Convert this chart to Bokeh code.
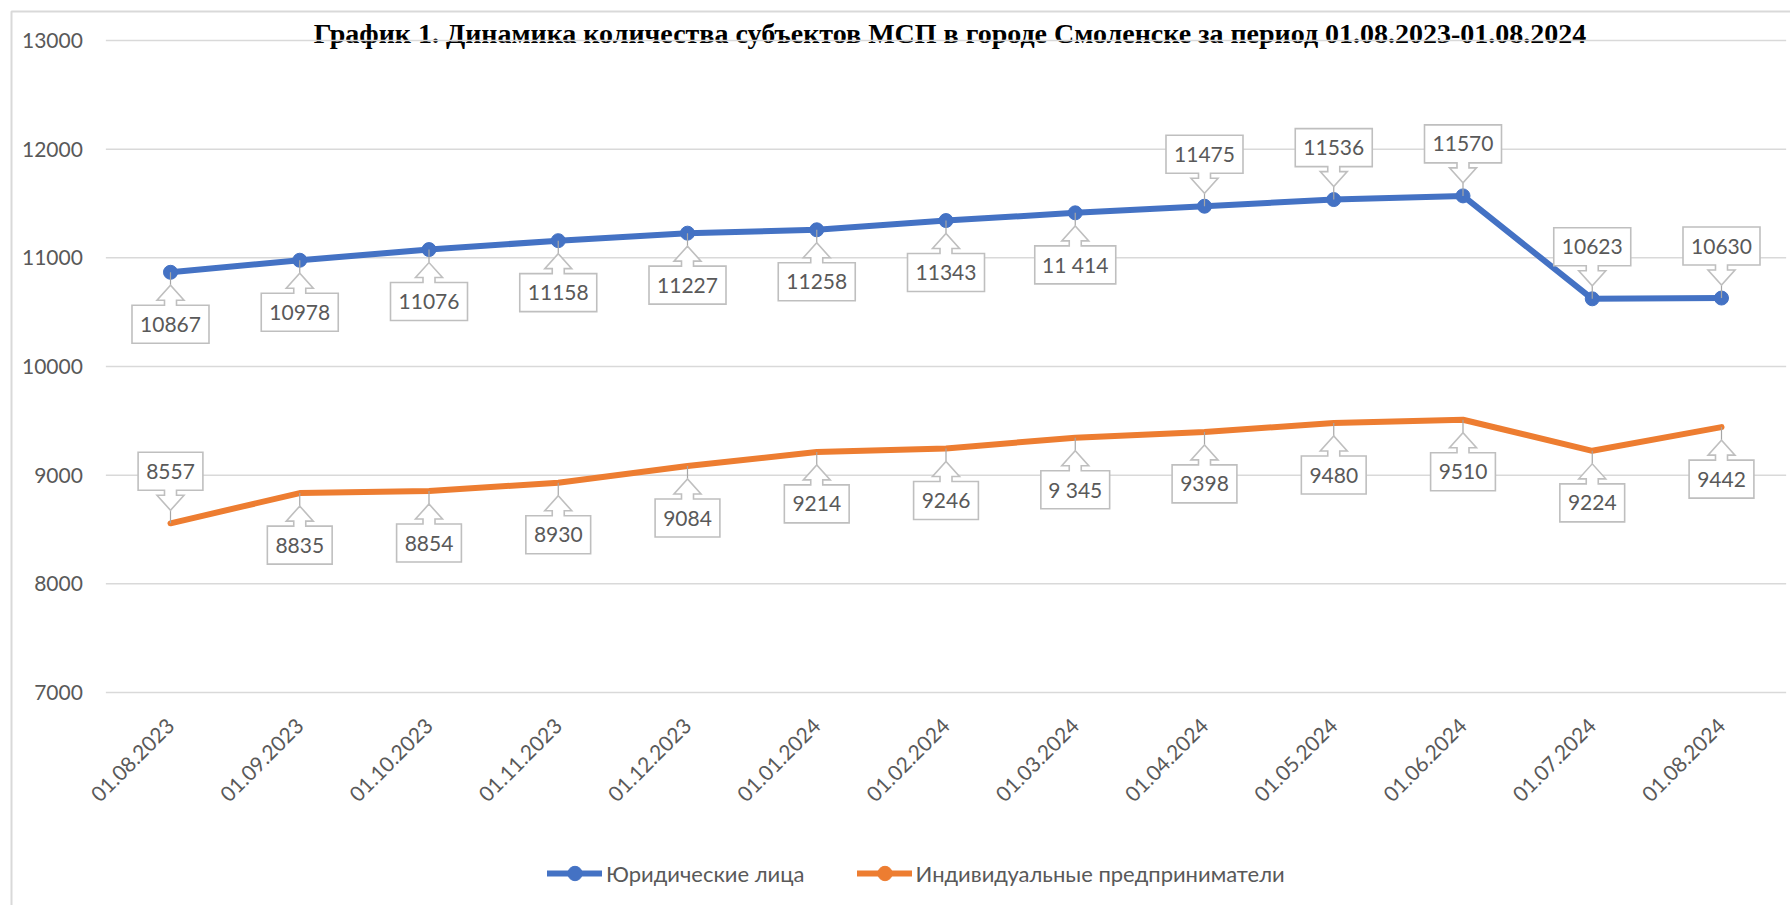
import math
from bokeh.plotting import figure
from bokeh.models import Range1d, Legend, LegendItem
from bokeh.core.properties import value
from bokeh.embed import file_html
from bokeh.resources import INLINE

# ---------------- data ----------------
dates = ["01.08.2023", "01.09.2023", "01.10.2023", "01.11.2023", "01.12.2023",
         "01.01.2024", "01.02.2024", "01.03.2024", "01.04.2024", "01.05.2024",
         "01.06.2024", "01.07.2024", "01.08.2024"]
legal = [10867, 10978, 11076, 11158, 11227, 11258, 11343, 11414, 11475,
         11536, 11570, 10623, 10630]
legal_labels = ["10867", "10978", "11076", "11158", "11227", "11258", "11343",
                "11 414", "11475", "11536", "11570", "10623", "10630"]
entrepreneurs = [8557, 8835, 8854, 8930, 9084, 9214, 9246, 9345, 9398, 9480,
                 9510, 9224, 9442]
entr_labels = ["8557", "8835", "8854", "8930", "9084", "9214", "9246", "9 345",
               "9398", "9480", "9510", "9224", "9442"]
y_ticks = [7000, 8000, 9000, 10000, 11000, 12000, 13000]
series_names = ["Юридические лица", "Индивидуальные предприниматели"]
title_text = ("График 1. Динамика количества субъектов МСП в городе Смоленске "
              "за период 01.08.2023-01.08.2024")

# label placement (+1 = callout above the point, -1 = below)
legal_side = [-1] * 8 + [1] * 5
entr_side = [1] + [-1] * 12

# ---------------- style / layout ----------------
BLUE = "#4472C4"
ORANGE = "#ED7D31"
TXT = "#595959"
GRID = "#D9D9D9"
CALLOUT = "#BFBFBF"
FONT = "Lato"
FS = "21px"

W, H = 1790, 905
CAT_PX = 129.25            # pixels per category
FIRST_PX = 170             # pixel x of the first category
TOP_PX, BOT_PX = 40, 692   # pixel y of the 13000 and 7000 grid lines
Y_LO, Y_HI = 7000, 13000
VAL_PX = (BOT_PX - TOP_PX) / (Y_HI - Y_LO)   # pixels per value unit

X0 = -FIRST_PX / CAT_PX
X1 = X0 + W / CAT_PX
Y1 = Y_HI + TOP_PX / VAL_PX
Y0 = Y_LO - (H - BOT_PX) / VAL_PX


def xd(px):
    return X0 + px / CAT_PX


def yd(py):
    return Y1 - py / VAL_PX


PX_X = 1 / CAT_PX
PX_Y = 1 / VAL_PX

p = figure(width=W, height=H, x_range=Range1d(X0, X1), y_range=Range1d(Y0, Y1),
           output_backend="svg", toolbar_location=None, title=None,
           x_axis_type=None, y_axis_type=None, min_border=0,
           outline_line_color=None, background_fill_color="white",
           border_fill_color="white")
p.grid.visible = False

xs = list(range(len(dates)))

# chart border (top and left edges; the rest lies outside the window)
p.line([xd(11), xd(11), xd(W + 20)], [yd(H + 20), yd(11), yd(11)],
       line_color=GRID, line_width=2)

# title
p.text([xd(949.5)], [yd(33)], text=[title_text],
       text_font=value("Liberation Serif"), text_font_style="bold",
       text_font_size="28px", text_color="black", text_align="center",
       text_baseline="alphabetic")

# horizontal grid lines (plot area spans half a category beyond first/last)
n_t = len(y_ticks)
p.segment(x0=[-0.5] * n_t, y0=y_ticks, x1=[len(dates) - 0.5] * n_t,
          y1=y_ticks, line_color=GRID, line_width=1.5)

# value axis labels
p.text([-0.5 - 23 * PX_X] * n_t, y_ticks, text=[str(t) for t in y_ticks],
       text_font=value(FONT), text_font_size=FS, text_color=TXT,
       text_align="right", text_baseline="middle")

# category axis labels (rotated 45 degrees)
p.text(xs, [Y_LO - 29.5 * PX_Y] * len(xs), text=dates, angle=math.pi / 4,
       text_font=value(FONT), text_font_size=FS, text_color=TXT,
       text_align="right", text_baseline="middle")

# series
l1 = p.line(xs, legal, line_color=BLUE, line_width=6, line_cap="round",
            line_join="round")
m1 = p.scatter(xs, legal, size=14, fill_color=BLUE, line_color=BLUE)
l2 = p.line(xs, entrepreneurs, line_color=ORANGE, line_width=6,
            line_cap="round", line_join="round")
m2 = p.scatter(xs, entrepreneurs, size=14, fill_color=ORANGE,
               line_color=ORANGE, visible=False)

# callouts
OFF = 52
HH = 19


def box_width(lbl):
    nd = sum(c.isdigit() for c in lbl)
    ns = lbl.count(" ")
    return 12.2 * nd + 4 * ns + 16


def add_callouts(vals, labels, sides):
    pxs, pys, tx, ty, lx0, ly0, lx1, ly1 = [], [], [], [], [], [], [], []
    for i, (v, lbl, s) in enumerate(zip(vals, labels, sides)):
        bw = box_width(lbl)
        c = s * OFF
        near = c - s * HH
        far = c + s * HH
        stem = c - s * (HH + 5)
        tip = c - s * (HH + 20)
        pts = [(-bw / 2, near), (-6, near), (-6, stem), (-13.5, stem), (0, tip),
               (13.5, stem), (6, stem), (6, near), (bw / 2, near),
               (bw / 2, far), (-bw / 2, far)]
        pxs.append([i + dx * PX_X for dx, dy in pts])
        pys.append([v + dy * PX_Y for dx, dy in pts])
        tx.append(i)
        ty.append(v + c * PX_Y)
        lx0.append(i)
        ly0.append(v)
        lx1.append(i)
        ly1.append(v + tip * PX_Y)
    p.segment(lx0, ly0, lx1, ly1, line_color="#A6A6A6", line_width=1.2)
    p.patches(pxs, pys, fill_color="white", line_color=CALLOUT, line_width=1.6,
              line_join="miter")
    p.text(tx, ty, text=labels, text_font=value(FONT), text_font_size=FS,
           text_color=TXT, text_align="center", text_baseline="middle")


add_callouts(legal, legal_labels, legal_side)
add_callouts(entrepreneurs, entr_labels, entr_side)

# legend
LEG_H = 36
legend = Legend(items=[LegendItem(label=series_names[0], renderers=[l1, m1]),
                       LegendItem(label=series_names[1], renderers=[l2, m2])],
                orientation="horizontal",
                location=(547, H - 873 - LEG_H / 2),
                glyph_width=55, glyph_height=LEG_H, label_standoff=4,
                spacing=52, padding=0, margin=0, border_line_color=None,
                background_fill_alpha=0, label_text_font=FONT,
                label_text_font_size="22px", label_text_color=TXT)
p.add_layout(legend, "center")

open("out.html", "w").write(file_html(p, INLINE))
